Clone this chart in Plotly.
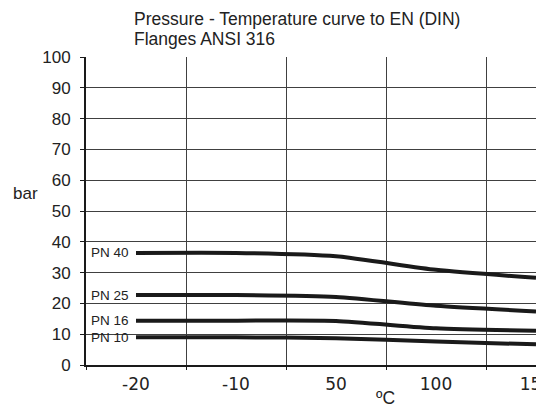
import plotly.graph_objects as go

# ---- data ----
temperatures = ["-20", "-10", "50", "100", "150"]
pn40 = [36.4, 36.4, 35.3, 30.9, 28.3]
pn25 = [22.7, 22.7, 22.1, 19.2, 17.4]
pn16 = [14.4, 14.4, 14.3, 11.9, 11.1]
pn10 = [9.0, 9.0, 8.7, 7.6, 6.7]
series_names = ["PN 40", "PN 25", "PN 16", "PN 10"]
y_tick_values = [0, 10, 20, 30, 40, 50, 60, 70, 80, 90, 100]

title_lines = ["Pressure - Temperature curve to EN (DIN)", "Flanges ANSI 316"]
x_title = "ºC"
y_title = "bar"

# ---- layout constants ----
W, H = 549, 407
L, R, T, B = 86, 13, 57, 42
PW, PH = W - L - R, H - T - B
FONT = "Liberation Sans, Arial, sans-serif"
INK = "#1a1a1a"
TXT = "#222222"
GRID = "#404040"


def py(px):
    """pixel row (from top of figure) -> paper y"""
    return (H - B - px) / PH


def px_(px):
    """pixel column -> paper x"""
    return (px - L) / PW


fig = go.Figure()
for name, vals in zip(series_names, [pn40, pn25, pn16, pn10]):
    fig.add_trace(go.Scatter(
        x=temperatures, y=vals, mode="lines", name=name,
        line=dict(color=INK, width=4, shape="spline", smoothing=0.6),
        cliponaxis=True, hoverinfo="skip", showlegend=False,
    ))
    fig.add_annotation(
        text=name, xref="paper", x=px_(89), xanchor="left",
        yref="y", y=vals[0], yanchor="middle", showarrow=False,
        font=dict(family=FONT, size=13.5, color=TXT),
    )

# title lines
for line_text, cy in zip(title_lines, [18.7, 39.2]):
    fig.add_annotation(
        text=line_text, xref="paper", x=px_(131.5), xanchor="left",
        yref="paper", y=py(cy), yanchor="middle", showarrow=False,
        font=dict(family=FONT, size=17.5, color=TXT),
    )

fig.add_annotation(
    text=y_title, xref="paper", x=px_(25.5), xanchor="center",
    yref="paper", y=py(193), yanchor="middle", showarrow=False,
    font=dict(family=FONT, size=17, color=TXT),
)
fig.add_annotation(
    text=x_title, xref="paper", x=px_(385), xanchor="center",
    yref="paper", y=py(397.5), yanchor="middle", showarrow=False,
    font=dict(family=FONT, size=17.5, color=TXT),
)

# white mask clipping the last tick label at the plot's right edge
fig.add_shape(
    type="rect", xref="paper", yref="paper", x0=1, x1=1.1, y0=-0.16, y1=-0.004,
    fillcolor="white", line=dict(width=0), layer="above",
)
# gap in the 10-bar gridline behind the PN 10 label (as in the source)
fig.add_shape(
    type="rect", xref="paper", yref="paper", x0=px_(89), x1=px_(262),
    y0=py(336.5), y1=py(332.5),
    fillcolor="white", line=dict(width=0), layer="between",
)

fig.update_layout(
    width=W, height=H,
    margin=dict(l=L, r=R, t=T, b=B, pad=0),
    paper_bgcolor="white", plot_bgcolor="white",
    xaxis=dict(
        type="category", categoryorder="array", categoryarray=temperatures,
        range=[-0.5, 4.0], tickson="boundaries",
        showgrid=True, gridcolor=GRID, gridwidth=1,
        showline=True, linecolor=INK, linewidth=2,
        ticks="outside", ticklen=3, tickcolor=INK, tickwidth=1,
        tickfont=dict(family="DejaVu Sans", size=17, color=TXT),
        ticklabelstandoff=3,
        zeroline=False, fixedrange=True, automargin=False,
    ),
    yaxis=dict(
        range=[0, 100], tickmode="array", tickvals=y_tick_values,
        showgrid=True, gridcolor=GRID, gridwidth=1,
        showline=True, linecolor=INK, linewidth=2,
        ticks="outside", ticklen=4, tickcolor=INK, tickwidth=1,
        tickfont=dict(family=FONT, size=17, color=TXT),
        ticklabelstandoff=6,
        zeroline=False, fixedrange=True, automargin=False,
    ),
)

fig.write_html(
    "out.html",
    config={"displayModeBar": False},
    post_script="document.body.style.margin='0';document.body.style.overflow='hidden';",
)
